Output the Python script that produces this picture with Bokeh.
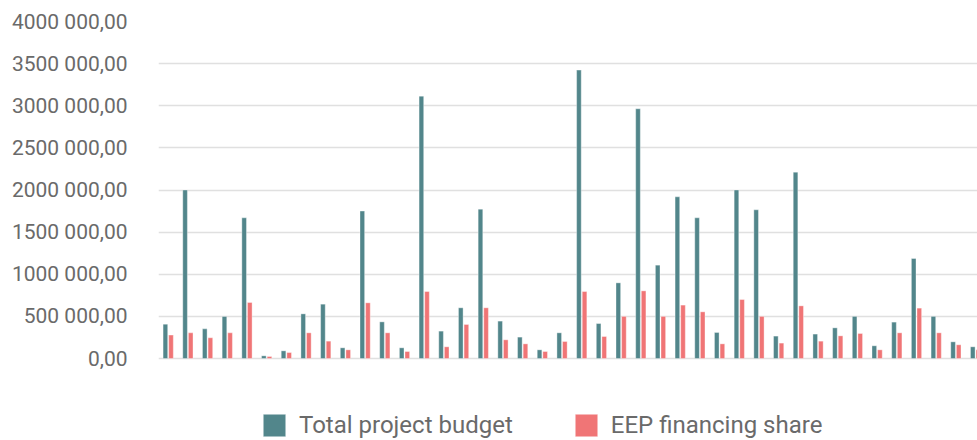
from bokeh.plotting import figure
from bokeh.models import (ColumnDataSource, Range1d, FixedTicker, CustomJSTickFormatter,
                          Legend, LegendItem)
from bokeh.embed import file_html
from bokeh.resources import INLINE
import numpy as np

projects = [f"Project {i}" for i in range(1, 43)]
total_budget = [408, 2000, 352, 500, 1670, 32, 91, 530, 645, 127,
                1750, 435, 127, 3114, 325, 602, 1773, 444, 254, 103,
                305, 3423, 415, 898, 2964, 1108, 1919, 1670, 309, 2000,
                1765, 266, 2212, 290, 364, 500, 151, 432, 1187, 500,
                198, 139]
eep_share = [278, 305, 246, 305, 665, 24, 71, 305, 206, 103,
             661, 305, 83, 795, 139, 404, 602, 222, 174, 83,
             202, 795, 261, 500, 803, 500, 634, 554, 174, 700,
             500, 183, 625, 206, 269, 297, 103, 305, 598, 305,
             163, 103]
y_ticks = [0, 500000, 1000000, 1500000, 2000000, 2500000, 3000000, 3500000, 4000000]

TEAL = "#52868B"
RED = "#F07576"
TXT = "#6a6a6a"
FONT = "Roboto"

idx = np.arange(len(projects)) + 0.5
src = ColumnDataSource(dict(
    project=projects,
    x_total=idx - 0.15,
    x_eep=idx + 0.135,
    total=[v * 1000 for v in total_budget],
    eep=[v * 1000 for v in eep_share],
))

# frame spans down to the bottom of the canvas so the legend can sit inside it
p = figure(width=977, height=440, output_backend="svg", toolbar_location=None,
           x_range=Range1d(0, 41.59), y_range=Range1d(-973000, 4000000),
           x_axis_location=None,
           min_border_left=158, min_border_right=0, min_border_top=21,
           min_border_bottom=0)
p.outline_line_color = None
p.background_fill_color = "white"
p.border_fill_color = "white"

r1 = p.vbar(x="x_total", top="total", width=0.235, source=src,
            fill_color=TEAL, line_color="white", line_width=0.6, line_alpha=0.6)
r2 = p.vbar(x="x_eep", top="eep", width=0.235, source=src,
            fill_color=RED, line_color="white", line_width=0.6, line_alpha=0.6)

p.xgrid.visible = False
p.ygrid.grid_line_color = "#e0e0e0"
p.ygrid.grid_line_width = 1.5
p.yaxis.ticker = FixedTicker(ticks=y_ticks)
p.yaxis.formatter = CustomJSTickFormatter(code="""
const t = Math.round(tick);
const th = Math.floor(t / 1000);
const r = t % 1000;
if (th > 0) { return th + ' ' + String(r).padStart(3, '0') + ',00'; }
return r + ',00';
""")
p.yaxis.axis_line_color = None
p.yaxis.major_tick_line_color = None
p.yaxis.minor_tick_line_color = None
p.yaxis.major_tick_out = 0
p.yaxis.major_label_standoff = 31
p.yaxis.major_label_text_font = FONT
p.yaxis.major_label_text_font_size = "21px"
p.yaxis.major_label_text_color = TXT

legend = Legend(items=[LegendItem(label="Total project budget", renderers=[r1]),
                       LegendItem(label="EEP financing share", renderers=[r2])],
                location=(102, -3), orientation="horizontal", border_line_color=None,
                background_fill_alpha=0, padding=0, margin=0, spacing=59,
                glyph_width=28, glyph_height=28, label_height=36,
                label_standoff=11, label_text_font=FONT,
                label_text_font_size="24px", label_text_color=TXT)
p.add_layout(legend, "center")

open("out.html", "w").write(file_html(p, INLINE))
